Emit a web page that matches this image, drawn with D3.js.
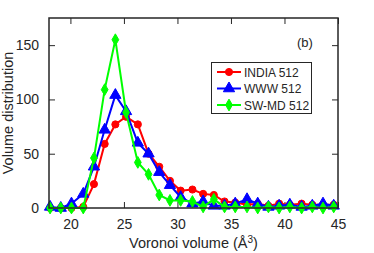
<!DOCTYPE html>
<html>
<head>
<meta charset="utf-8">
<style>
    body { margin: 0; background: #fff; }
    text { font-family: "Liberation Sans", Arial, sans-serif; fill: #262626; }
</style>
</head>
<body>
<svg id="chart" width="374" height="253"></svg>
<script src="https://cdn.jsdelivr.net/npm/d3@7"></script>
<script>
    // bin centres (Å^3)
    let volumes = [18.1, 19.1, 20.1, 21.2, 22.2, 23.2, 24.2, 25.2, 26.3, 27.3, 28.3, 29.3, 30.3, 31.4,
                   32.4, 33.4, 34.4, 35.4, 36.5, 37.5, 38.5, 39.5, 40.5, 41.6, 42.6, 43.6, 44.6]
    let india = [0, 0, 0, 1, 22, 59, 77, 84, 77, 50, 38, 25, 16, 17, 13, 12, 6, 5, 3, 4, 2, 4, 3, 4, 3, 3, 3]
    let www   = [1, 0, 4, 13, 38, 72, 104, 89, 60, 50, 33, 21, 10, 4, 6, 2, 2, 4, 8, 4, 1, 2, 3, 1, 2, 4, 2]
    let swmd  = [0, 0, 0, 0, 46, 109, 155, 88, 42, 31, 12, 7, 7, 6, 1, 8, 1, 1, 1, 0, 1, 0, 1, 0, 1, 0, 1]
    let seriesNames = ["INDIA 512", "WWW 512", "SW-MD 512"]
    let xTicks = [20, 25, 30, 35, 40, 45]
    let yTicks = [0, 50, 100, 150]

    let colors = ["#ff0000", "#0000ff", "#00ff00"]
    let symbols = [d3.symbolCircle, d3.symbolTriangle, d3.symbolDiamond]
    let symSizes = [40, 55, 40]

    let pLeft = 49, pRight = 338, pTop = 18, pBottom = 208
    let svg = d3.select("#chart")

    let x = d3.scaleLinear().domain([18, 45]).range([pLeft, pRight])
    let y = d3.scaleLinear().domain([0, 175]).range([pBottom, pTop])

    // axes with inward ticks
    let axisColor = "#262626"
    function styleAxis(g) {
        g.select(".domain").remove()
        g.selectAll("line").attr("stroke", axisColor).attr("stroke-width", 1)
        g.selectAll("text").style("font-size", "14px").attr("fill", axisColor)
    }
    svg.append("g").attr("transform", `translate(0,${pBottom})`)
        .call(d3.axisBottom(x).tickValues(xTicks).tickSizeInner(-6).tickPadding(11))
        .call(styleAxis)
    svg.append("g").attr("transform", `translate(0,${pTop})`)
        .call(d3.axisTop(x).tickValues(xTicks).tickSizeInner(-6).tickFormat(""))
        .call(styleAxis)
    svg.append("g").attr("transform", `translate(${pLeft},0)`)
        .call(d3.axisLeft(y).tickValues(yTicks).tickSizeInner(-6).tickPadding(10))
        .call(styleAxis)
    svg.append("g").attr("transform", `translate(${pRight},0)`)
        .call(d3.axisRight(y).tickValues(yTicks).tickSizeInner(-6).tickFormat(""))
        .call(styleAxis)

    let clip = svg.append("clipPath").attr("id", "clip")
    clip.append("rect").attr("x", pLeft - 6).attr("y", pTop)
        .attr("width", pRight - pLeft + 12).attr("height", pBottom - pTop + 6)

    // series
    let allSeries = [india, www, swmd]
    let line = d3.line().x((d, i) => x(volumes[i])).y(d => y(d))
    let plot = svg.append("g").attr("clip-path", "url(#clip)")
    allSeries.forEach((vals, k) => {
        let g = plot.append("g")
        g.append("path").datum(vals)
            .attr("d", line)
            .attr("fill", "none")
            .attr("stroke", colors[k])
            .attr("stroke-width", 2)
        g.selectAll("path.m").data(vals).enter().append("path")
            .attr("class", "m")
            .attr("d", d3.symbol().type(symbols[k]).size(symSizes[k]))
            .attr("transform", (d, i) => `translate(${x(volumes[i])},${y(d)})`)
            .attr("fill", colors[k])
            .attr("stroke", colors[k])
    })

    // box
    svg.append("rect").attr("x", pLeft).attr("y", pTop)
        .attr("width", pRight - pLeft).attr("height", pBottom - pTop)
        .attr("fill", "none").attr("stroke", axisColor).attr("stroke-width", 1.5)

    // legend
    let lg = svg.append("g")
    lg.append("rect").attr("x", 211.5).attr("y", 62.5).attr("width", 100).attr("height", 51)
        .attr("fill", "#fff").attr("stroke", axisColor).attr("stroke-width", 1)
    seriesNames.forEach((name, k) => {
        let yy = 72 + k * 16.5
        lg.append("line").attr("x1", 217).attr("x2", 241).attr("y1", yy).attr("y2", yy)
            .attr("stroke", colors[k]).attr("stroke-width", 2)
        lg.append("path").attr("d", d3.symbol().type(symbols[k]).size(symSizes[k]))
            .attr("transform", `translate(229,${yy})`)
            .attr("fill", colors[k]).attr("stroke", colors[k])
        lg.append("text").attr("x", 244).attr("y", yy + 4.5)
            .style("font-size", "12px").text(name)
    })

    svg.append("text").attr("x", 297).attr("y", 47).style("font-size", "13px").text("(b)")

    // axis titles
    let xt = svg.append("text").attr("x", (pLeft + pRight) / 2).attr("y", 248)
        .attr("text-anchor", "middle").style("font-size", "14.5px")
    xt.append("tspan").text("Voronoi volume (Å")
    xt.append("tspan").attr("dy", -5).style("font-size", "10px").text("3")
    xt.append("tspan").attr("dy", 5).text(")")

    svg.append("text").attr("transform", `translate(13,${(pTop + pBottom) / 2}) rotate(-90)`)
        .attr("text-anchor", "middle").style("font-size", "14.5px").text("Volume distribution")
</script>
</body>
</html>
